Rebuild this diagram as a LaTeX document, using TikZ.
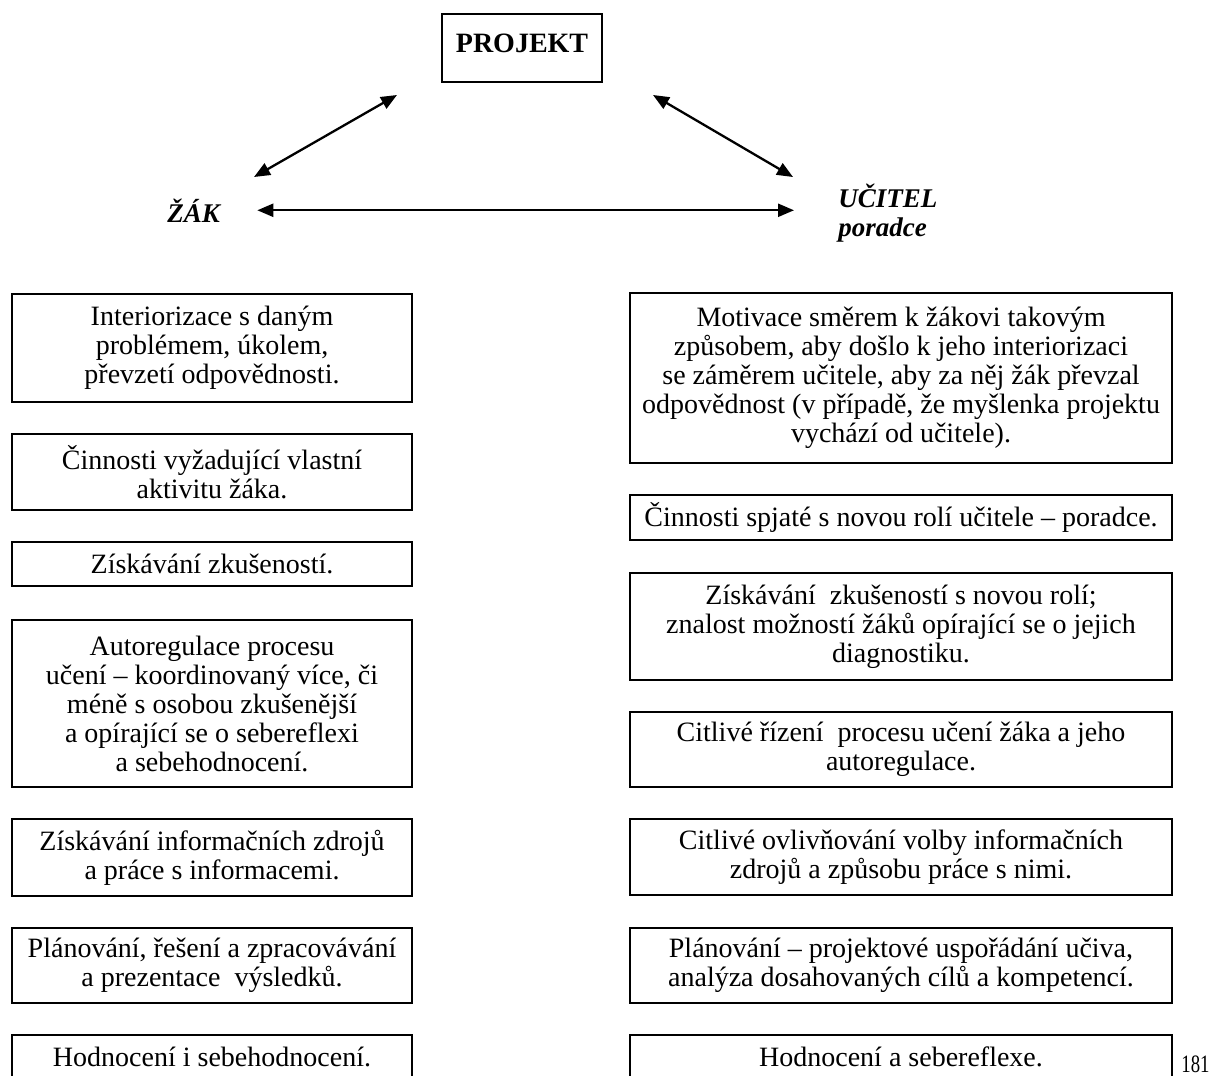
\documentclass[tikz,border=0pt]{standalone}
\usepackage{fontspec}
\setmainfont{Liberation Serif}
\usetikzlibrary{arrows.meta}
\begin{document}
\begin{tikzpicture}[x=0.5pt,y=-0.5pt,
  item/.style={draw, line width=0.7pt, inner sep=0pt, align=center,
    font=\fontsize{14pt}{14.5pt}\selectfont},
  lbox/.style={item, minimum width=200pt},
  rbox/.style={item, minimum width=271pt},
  role/.style={inner sep=0pt, font=\fontsize{13.5pt}{16pt}\selectfont\bfseries\itshape},
  link/.style={line width=1.15pt,
    {Triangle[length=8pt,width=6.5pt]}-{Triangle[length=8pt,width=6.5pt]}}
]
\useasboundingbox (0,0) rectangle (1213,1075);
\clip (0,0) rectangle (1213,1075);

% top triangle: project, pupil, teacher
\node[draw, line width=1pt, inner sep=0pt, minimum width=80pt, minimum height=34pt,
  text depth=5pt, font=\fontsize{14pt}{16pt}\selectfont\bfseries] (projekt) at (522,48) {PROJEKT};
\node[role, anchor=base west] (zak) at (167,222) {ŽÁK};
\node[role, anchor=base west] (ucitel) at (838,207) {UČITEL};
\node[role, anchor=base west] (poradce) at (838,236) {poradce};

\coordinate (pz) at (397,95);
\coordinate (zp) at (254,177);
\coordinate (pu) at (653,95);
\coordinate (up) at (793,177);
\draw[link] (pz) -- (zp);
\draw[link] (pu) -- (up);
\draw[link, shorten <=18.5pt, shorten >=22pt] (zak.east) -- (zak.east -| ucitel.west);

% pupil column
\node[lbox, minimum height=54pt]   (l1) at (212,348)   {Interiorizace s daným\\problémem, úkolem,\\převzetí odpovědnosti.};
\node[lbox, minimum height=38pt]   (l2) at (212,472)   {Činnosti vyžadující vlastní\\aktivitu žáka.};
\node[lbox, minimum height=22pt]   (l3) at (212,564)   {Získávání zkušeností.};
\node[lbox, minimum height=83.5pt] (l4) at (212,703.5) {Autoregulace procesu\\učení – koordinovaný více, či\\méně s osobou zkušenější\\a opírající se o sebereflexi\\a sebehodnocení.};
\node[lbox, minimum height=38.5pt] (l5) at (212,857.5) {Získávání informačních zdrojů\\a práce s informacemi.};
\node[lbox, minimum height=37.5pt] (l6) at (212,965.5) {Plánování, řešení a zpracovávání\\a prezentace~ výsledků.};
\node[lbox, minimum height=22pt]   (l7) at (212,1057)  {Hodnocení i sebehodnocení.};

% teacher column
\node[rbox, minimum height=85pt]   (r1) at (901,378)   {Motivace směrem k žákovi takovým\\způsobem, aby došlo k jeho interiorizaci\\se záměrem učitele, aby za něj žák převzal\\odpovědnost (v případě, že myšlenka projektu\\vychází od učitele).};
\node[rbox, minimum height=22.5pt] (r2) at (901,517.5) {Činnosti spjaté s novou rolí učitele – poradce.};
\node[rbox, minimum height=53.5pt] (r3) at (901,626.5) {Získávání~ zkušeností s novou rolí;\\znalost možností žáků opírající se o jejich\\diagnostiku.};
\node[rbox, minimum height=37.5pt] (r4) at (901,749.5) {Citlivé řízení~ procesu učení žáka a jeho\\autoregulace.};
\node[rbox, minimum height=38pt]   (r5) at (901,857)   {Citlivé ovlivňování volby informačních\\zdrojů a způsobu práce s nimi.};
\node[rbox, minimum height=37.5pt] (r6) at (901,965.5) {Plánování – projektové uspořádání učiva,\\analýza dosahovaných cílů a kompetencí.};
\node[rbox, minimum height=22pt]   (r7) at (901,1057)  {Hodnocení a sebereflexe.};

% page number
\node[inner sep=0pt, anchor=base east, font=\fontsize{12.5pt}{14pt}\selectfont] (page) at (1210,1072) {\scalebox{0.75}[1]{181}};
\end{tikzpicture}
\end{document}
